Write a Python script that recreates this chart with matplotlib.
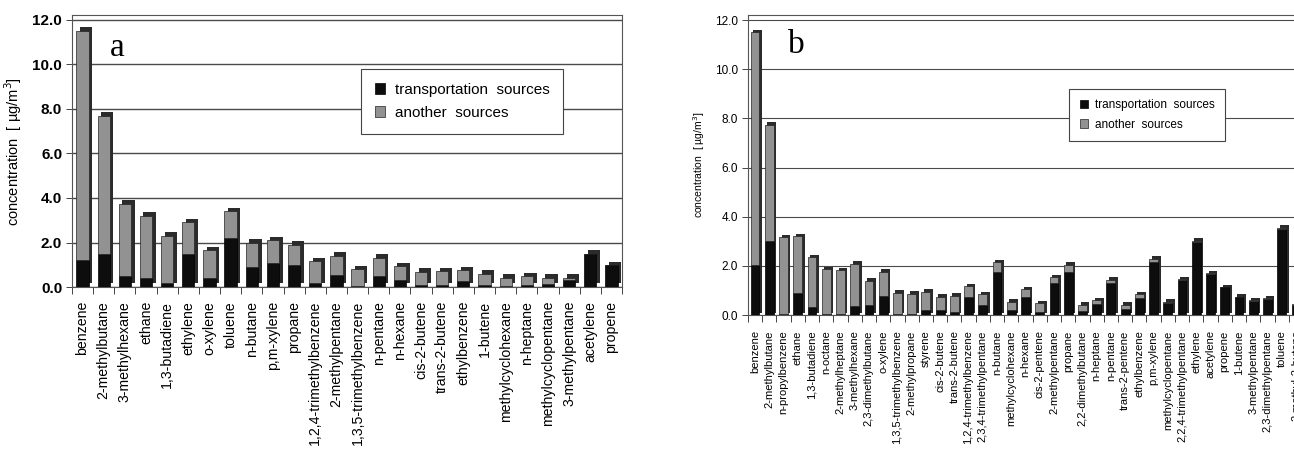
import matplotlib
matplotlib.use("Agg")
import matplotlib.pyplot as plt
import matplotlib.patheffects as pe
import numpy as np

plt.rcParams['font.family'] = ['Liberation Sans', 'DejaVu Sans']

# ---------------- data: panel a ----------------
cats_a = ["benzene", "2-methylbutane", "3-methylhexane", "ethane", "1,3-butadiene",
          "ethylene", "o-xylene", "toluene", "n-butane", "p,m-xylene", "propane",
          "1,2,4-trimethylbenzene", "2-methylpentane", "1,3,5-trimethylbenzene",
          "n-pentane", "n-hexane", "cis-2-butene", "trans-2-butene", "ethylbenzene",
          "1-butene", "methylcyclohexane", "n-heptane", "methylcyclopentane",
          "3-methylpentane", "acetylene", "propene"]
total_a = [11.5, 7.7, 3.75, 3.2, 2.3, 2.9, 1.65, 3.4, 2.0, 2.1, 1.9,
           1.15, 1.4, 0.8, 1.3, 0.93, 0.68, 0.7, 0.75, 0.6, 0.42, 0.48, 0.42,
           0.42, 1.5, 0.97]
transport_a = [1.2, 1.5, 0.5, 0.4, 0.2, 1.5, 0.4, 2.2, 0.9, 1.1, 1.0,
               0.2, 0.55, 0.05, 0.48, 0.33, 0.1, 0.1, 0.25, 0.1, 0.03, 0.1, 0.15,
               0.3, 1.47, 0.97]

# ---------------- data: panel b ----------------
cats_b = ["benzene", "2-methylbutane", "n-propylbenzene", "ethane", "1,3-butadiene",
          "n-octane", "2-methylheptane", "3-methylhexane", "2,3-dimethylbutane",
          "o-xylene", "1,3,5-trimethylbenzene", "2-methylpropane", "styrene",
          "cis-2-butene", "trans-2-butene", "1,2,4-trimethylbenzene",
          "2,3,4-trimethylpentane", "n-butane", "methylcyclohexane", "n-hexane",
          "cis-2-pentene", "2-methylpentane", "propane", "2,2-dimethylbutane",
          "n-heptane", "n-pentane", "trans-2-pentene", "ethylbenzene", "p,m-xylene",
          "methylcyclopentane", "2,2,4-trimethylpentane", "ethylene", "acetylene",
          "propene", "1-butene", "3-methylpentane", "2,3-dimethylpentane", "toluene",
          "2-methyl-2-butene"]
total_b = [11.5, 7.73, 3.17, 3.2, 2.35, 1.87, 1.83, 2.08, 1.4, 1.75, 0.91, 0.86, 0.94,
           0.75, 0.79, 1.18, 0.84, 2.15, 0.54, 1.05, 0.47, 1.53, 2.05, 0.41, 0.6, 1.43,
           0.41, 0.84, 2.28, 0.54, 1.46, 3.02, 1.7, 1.13, 0.75, 0.61, 0.68, 3.55, 0.45]
transport_b = [2.05, 3.03, 0.05, 0.9, 0.31, 0.03, 0.03, 0.37, 0.4, 0.77, 0.03, 0.05, 0.2,
               0.2, 0.14, 0.75, 0.4, 1.76, 0.2, 0.75, 0.14, 1.29, 1.76, 0.16, 0.45, 1.29,
               0.25, 0.68, 2.17, 0.47, 1.44, 2.97, 1.68, 1.12, 0.74, 0.58, 0.66, 3.5, 0.42]

legend_labels = ["transportation  sources", "another  sources"]
ylabel = "concentration  [ \u00b5g/m$^3$]"
yticks = [0, 2, 4, 6, 8, 10, 12]

BLACK = "#0d0d0d"
GREY = "#929292"

fig = plt.figure(figsize=(12.94, 4.53), dpi=100)


def draw_panel(ax, cats, total, transport, width, shadow, tick_fs, tick_w,
               lab_fs, lab_pad, ylab_fs, letter, letter_pos, leg_pos, leg_fs,
               grid_lw):
    n = len(cats)
    x = np.arange(n)
    other = [t - tr for t, tr in zip(total, transport)]
    b1 = ax.bar(x, transport, width, color=BLACK, edgecolor="black", lw=0.5,
                label=legend_labels[0], zorder=3)
    b2 = ax.bar(x, other, width, bottom=transport, color=GREY, edgecolor="#222222",
                lw=0.5, label=legend_labels[1], zorder=3)
    leg = ax.legend(loc="center", bbox_to_anchor=leg_pos, fontsize=leg_fs,
                    frameon=True, fancybox=False, edgecolor="#444444",
                    framealpha=1.0, handlelength=0.7, handleheight=0.7,
                    handletextpad=0.6, borderpad=0.9, labelspacing=0.6)
    leg.get_frame().set_linewidth(0.8)
    fx = [pe.SimplePatchShadow(offset=(shadow, shadow), shadow_rgbFace="#2b2b2b",
                               alpha=1.0), pe.Normal()]
    for p in list(b1) + list(b2):
        p.set_path_effects(fx)
    ax.set_xlim(-0.5, n - 0.5)
    ax.set_ylim(0, 12.2)
    ax.set_yticks(yticks)
    ax.set_yticklabels([f"{v:.1f}" for v in yticks], fontsize=tick_fs,
                       fontweight=tick_w)
    ax.set_xticks(x)
    ax.set_xticklabels(cats, rotation=90, fontsize=lab_fs)
    ax.set_xticks(np.arange(n + 1) - 0.5, minor=True)
    ax.tick_params(axis="x", which="major", length=0, pad=lab_pad)
    ax.tick_params(axis="x", which="minor", length=5, width=0.7, color="#444444")
    ax.tick_params(axis="y", length=4, width=0.7, color="#444444", pad=3)
    ax.set_axisbelow(True)
    ax.yaxis.grid(True, color="#4a4a4a", lw=grid_lw)
    for s in ["left", "right", "top", "bottom"]:
        ax.spines[s].set_color("#555555")
        ax.spines[s].set_linewidth(0.8)
    ax.set_ylabel(ylabel, fontsize=ylab_fs, labelpad=6)
    ax.text(letter_pos[0], letter_pos[1], letter, transform=ax.transAxes,
            fontsize=24, family="Liberation Serif", ha="center", va="center")
    return ax


ax_a = fig.add_axes([0.0556, 0.3664, 0.4251, 0.5994])
draw_panel(ax_a, cats_a, total_a, transport_a, width=0.58, shadow=2.6,
           tick_fs=11, tick_w="bold", lab_fs=10.2, lab_pad=10, ylab_fs=10.5,
           letter="a", letter_pos=(0.082, 0.88), leg_pos=(0.709, 0.683),
           leg_fs=11, grid_lw=1.0)

ax_b = fig.add_axes([0.578, 0.3046, 0.429, 0.6621])
draw_panel(ax_b, cats_b, total_b, transport_b, width=0.62, shadow=1.8,
           tick_fs=8.5, tick_w="normal", lab_fs=8.0, lab_pad=11, ylab_fs=7.5,
           letter="b", letter_pos=(0.088, 0.90), leg_pos=(0.719, 0.667),
           leg_fs=8.5, grid_lw=0.8)

fig.savefig("out.png", dpi=100)
